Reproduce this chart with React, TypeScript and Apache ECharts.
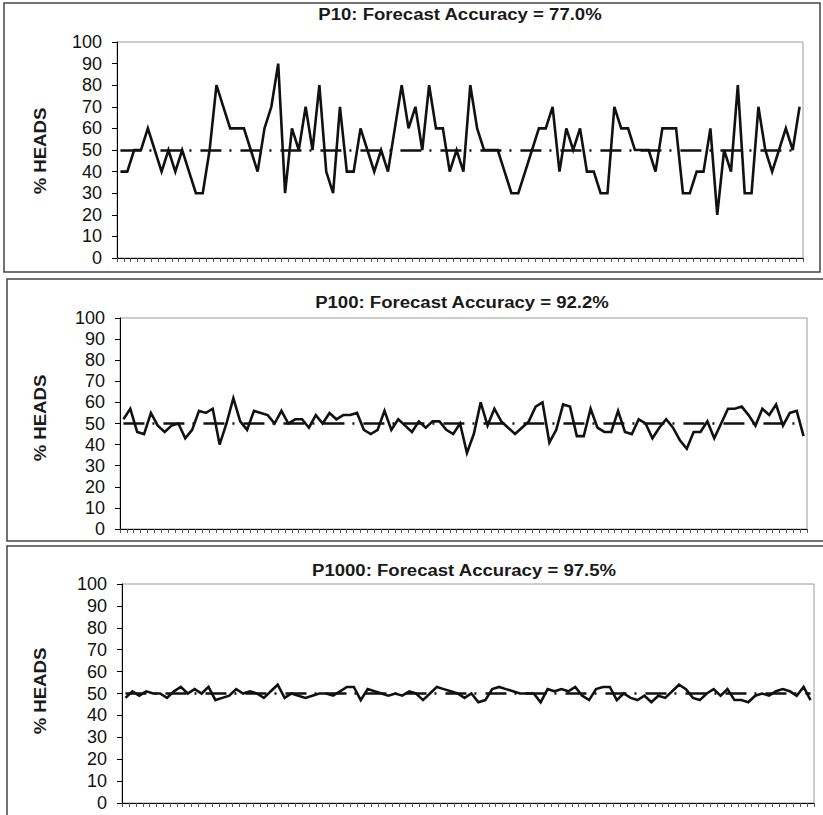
import React, { useEffect, useRef } from 'react';
import * as echarts from 'echarts';

// Trial numbers (categories on the x axis)
const TRIALS: string[] = [
  '1','2','3','4','5','6','7','8','9','10','11','12','13','14','15','16','17','18','19','20',
  '21','22','23','24','25','26','27','28','29','30','31','32','33','34','35','36','37','38','39','40',
  '41','42','43','44','45','46','47','48','49','50','51','52','53','54','55','56','57','58','59','60',
  '61','62','63','64','65','66','67','68','69','70','71','72','73','74','75','76','77','78','79','80',
  '81','82','83','84','85','86','87','88','89','90','91','92','93','94','95','96','97','98','99','100',
];

// % heads per trial, 10 flips per trial
const P10: number[] = [
  40, 40, 50, 50, 60, 50, 40, 50, 40, 50,
  40, 30, 30, 50, 80, 70, 60, 60, 60, 50,
  40, 60, 70, 90, 30, 60, 50, 70, 50, 80,
  40, 30, 70, 40, 40, 60, 50, 40, 50, 40,
  60, 80, 60, 70, 50, 80, 60, 60, 40, 50,
  40, 80, 60, 50, 50, 50, 40, 30, 30, 40,
  50, 60, 60, 70, 40, 60, 50, 60, 40, 40,
  30, 30, 70, 60, 60, 50, 50, 50, 40, 60,
  60, 60, 30, 30, 40, 40, 60, 20, 50, 40,
  80, 30, 30, 70, 50, 40, 50, 60, 50, 70,
];

// % heads per trial, 100 flips per trial
const P100: number[] = [
  52, 57, 46, 45, 55, 49, 46, 49, 50, 43,
  47, 56, 55, 57, 40, 50, 62, 51, 47, 56,
  55, 54, 50, 56, 50, 52, 52, 48, 54, 50,
  55, 52, 54, 54, 55, 47, 45, 47, 56, 47,
  52, 49, 46, 51, 48, 51, 51, 47, 45, 50,
  36, 45, 60, 49, 57, 51, 48, 45, 48, 51,
  58, 60, 41, 47, 59, 58, 44, 44, 57, 48,
  46, 46, 56, 46, 45, 52, 50, 43, 48, 52,
  48, 42, 38, 46, 46, 51, 43, 50, 57, 57,
  58, 54, 49, 57, 54, 59, 49, 55, 56, 44,
];

// % heads per trial, 1000 flips per trial
const P1000: number[] = [
  48, 51, 49, 51, 50, 50, 48, 51, 53, 50,
  52, 50, 53, 47, 48, 49, 52, 50, 51, 50,
  48, 51, 54, 48, 50, 49, 48, 49, 50, 50,
  49, 51, 53, 53, 47, 52, 51, 50, 49, 50,
  49, 51, 50, 47, 50, 53, 52, 51, 50, 48,
  50, 46, 47, 52, 53, 52, 51, 50, 50, 50,
  46, 52, 51, 52, 51, 53, 49, 47, 52, 53,
  53, 47, 50, 48, 47, 49, 46, 49, 48, 51,
  54, 52, 48, 47, 50, 52, 49, 52, 47, 47,
  46, 49, 50, 49, 51, 52, 51, 49, 53, 47,
];

const SERIES_DATA: number[][] = [P10, P100, P1000];
const TITLES: string[] = [
  'P10: Forecast Accuracy = 77.0%',
  'P100: Forecast Accuracy = 92.2%',
  'P1000: Forecast Accuracy = 97.5%',
];
const Y_NAME = '% HEADS';
const Y_MIN = 0;
const Y_MAX = 100;
const Y_STEP = 10;
const EXPECTED = 50;

// layout (pixels)
const GRIDS = [
  { left: 117, top: 42, width: 686, height: 216 },
  { left: 120, top: 318, width: 687, height: 211 },
  { left: 122, top: 584, width: 692, height: 219 },
];
const TITLE_POS = [
  { x: 460, y: 14 },
  { x: 462, y: 302 },
  { x: 464, y: 570 },
];
const YNAME_POS = [
  { x: 40, y: 151 },
  { x: 40, y: 418 },
  { x: 40, y: 691 },
];
const PANELS = [
  { x: 4, y: 3, width: 816, height: 269 },
  { x: 7, y: 279, width: 830, height: 262 },
  { x: 7, y: 546, width: 830, height: 300 },
];

export default function App() {
  const ref = useRef<HTMLDivElement>(null);

  useEffect(() => {
    if (!ref.current) return;
    const chart = echarts.init(ref.current, undefined, { renderer: 'svg' });

    const grid = GRIDS.map((g) => ({
      ...g,
      show: true,
      borderColor: '#9a9a9a',
      borderWidth: 1,
      backgroundColor: '#fff',
      containLabel: false,
    }));

    const xAxis = GRIDS.map((_, i) => ({
      type: 'category',
      gridIndex: i,
      data: TRIALS,
      boundaryGap: true,
      axisLine: { show: true, lineStyle: { color: '#000', width: 1 } },
      axisTick: { show: true, interval: 0, length: 4, inside: false, lineStyle: { color: '#555', width: 1 } },
      axisLabel: { show: false },
      splitLine: { show: false },
    }));

    const yAxis = GRIDS.map((_, i) => ({
      type: 'value',
      gridIndex: i,
      min: Y_MIN,
      max: Y_MAX,
      interval: Y_STEP,
      axisLine: { show: true, lineStyle: { color: '#000', width: 1 } },
      axisTick: { show: true, length: 5, inside: false, lineStyle: { color: '#000', width: 1 } },
      axisLabel: {
        color: '#111',
        fontFamily: 'Arial, "Liberation Sans", sans-serif',
        fontSize: 18,
        margin: 15,
      },
      splitLine: { show: false },
    }));

    const series = SERIES_DATA.map((d, i) => ({
      type: 'line',
      xAxisIndex: i,
      yAxisIndex: i,
      data: d,
      symbol: 'none',
      lineStyle: { color: '#111', width: 2.6, join: 'miter' },
      z: 3,
      markLine: {
        silent: true,
        symbol: ['none', 'none'],
        label: { show: false },
        lineStyle: { color: '#111', width: 2.6, type: [21, 8, 2, 9], cap: 'butt' },
        data: [
          [
            { coord: [TRIALS[0], EXPECTED] },
            { coord: [TRIALS[TRIALS.length - 1], EXPECTED] },
          ],
        ],
      },
    }));

    const graphic: any[] = [];
    PANELS.forEach((p) => {
      graphic.push({
        type: 'rect',
        z: -10,
        shape: { x: p.x, y: p.y, width: p.width, height: p.height },
        style: { fill: 'none', stroke: '#444', lineWidth: 1.5 },
        silent: true,
      });
    });
    TITLE_POS.forEach((t, i) => {
      graphic.push({
        type: 'text',
        x: t.x,
        y: t.y,
        scaleX: 1.16,
        style: {
          text: TITLES[i],
          font: 'bold 16px Arial, "Liberation Sans", sans-serif',
          fill: '#1a1a1a',
          textAlign: 'center',
          textVerticalAlign: 'middle',
        },
      });
    });
    YNAME_POS.forEach((t) => {
      graphic.push({
        type: 'text',
        x: t.x,
        y: t.y,
        rotation: Math.PI / 2,
        scaleX: 1.16,
        style: {
          text: Y_NAME,
          font: 'bold 16px Arial, "Liberation Sans", sans-serif',
          fill: '#1a1a1a',
          textAlign: 'center',
          textVerticalAlign: 'middle',
        },
      });
    });

    chart.setOption({
      animation: false,
      backgroundColor: '#fff',
      grid,
      xAxis,
      yAxis,
      series,
      graphic,
    } as any);

    return () => {
      chart.dispose();
    };
  }, []);

  return (
    <div
      ref={ref}
      style={{ position: 'absolute', left: 0, top: 0, width: 823, height: 815 }}
    />
  );
}
